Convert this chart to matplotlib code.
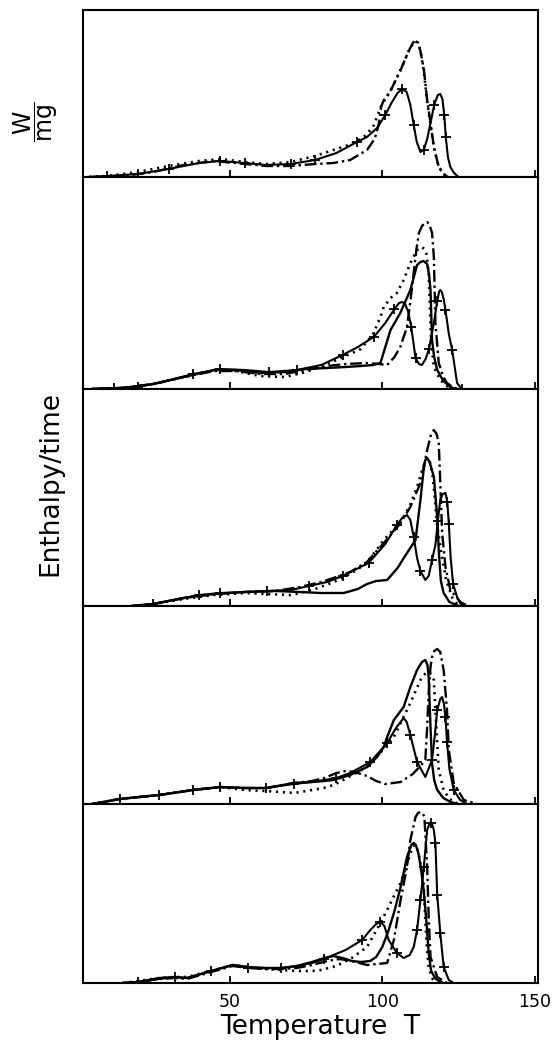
import matplotlib.pyplot as plt

plt.rcParams['font.family'] = ['DejaVu Sans']
plt.rcParams['mathtext.fontset'] = 'dejavusans'

# ── data (T in degrees, h = signal height) ──
# panel 1 (top)
p1_cross_T = [4, 10, 20, 30, 40, 47, 55, 62, 70, 78, 85, 91.7, 95, 98.3, 101, 103, 105, 106.5, 108, 109.2,
              110.3, 111.3, 112.5, 113.6, 114.7, 115.8, 117, 118.2, 119.0, 119.7, 120.3, 120.8, 121.5, 122.3, 123.5, 125]
p1_cross_h = [0, 1, 3, 8, 14, 16, 14, 12, 13, 17, 24, 35, 40, 49, 62, 74, 84, 88, 85, 72,
              52, 35, 25, 27, 38, 54, 72, 82, 83, 78, 62, 40, 20, 10, 4, 0]
p1_dash_T = [4, 15, 25, 35, 45, 55, 62, 70, 78, 84, 89.5, 95, 97.5, 98.8, 99.6, 100.5, 101.5, 103, 106, 108.5,
             110, 110.9, 111.8, 112.5, 113.6, 114.7, 115.8, 116.9, 118.5, 120, 121.5]
p1_dash_h = [0, 1, 5, 12, 16, 13, 11, 11, 13, 14, 17, 27, 38, 52, 70, 77, 80, 88, 107, 125,
             134, 137, 134, 126, 108, 77, 54, 30, 10, 3, 0]
p1_dot_T = [4, 10, 20, 30, 40, 47, 55, 62, 70, 78, 85, 90, 94, 97, 99.5, 101, 103, 106, 108.5, 110,
            110.9, 111.8, 112.5, 113.6, 114.7, 115.8, 117, 118.5, 121]
p1_dot_h = [0, 1, 5, 11, 16, 18, 15, 13, 15, 21, 28, 33, 40, 50, 70, 78, 88, 107, 125, 133,
            136, 133, 126, 106, 76, 52, 28, 10, 0]

# panel 2
p2_cross_T = [5, 12, 20, 28, 38, 47, 55, 63, 72, 80, 87, 92, 97.2, 101, 104, 105.5, 106.5, 107.5, 108.5, 109.5,
              110.9, 112, 113, 114.2, 115.3, 116.9, 118, 118.6, 119.0, 119.5, 120.1, 120.7, 121.8, 122.9, 124.5, 126]
p2_cross_h = [0, 1, 2, 7, 15, 20, 19, 17, 19, 24, 34, 42, 52, 66, 80, 86, 87, 85, 77, 62,
              31, 25, 24, 30, 40, 66, 88, 97, 99, 97, 90, 79, 55, 39, 6, 0]
p2_solid_T = [5, 15, 25, 35, 45, 52, 60, 68, 75, 82, 88, 93, 97, 99.4, 101, 102.7, 105.9, 109.2, 111.4, 112.5,
              113.5, 114.7, 115.3, 115.8, 116.3, 117, 118, 120, 122.3, 124]
p2_solid_h = [0, 1, 5, 12, 19, 19, 16, 17, 20, 21, 22, 23, 24, 26, 42, 59, 76, 99, 124, 127,
              128, 125, 115, 99, 49, 32, 19, 8, 2, 0]
p2_dash_T = [5, 15, 25, 35, 45, 52, 60, 68, 75, 82, 88, 95, 99, 101.6, 104, 105.9, 108.1, 109.3, 110.3, 111.2,
             112, 113, 114, 114.7, 115.5, 116.3, 116.9, 117.4, 118.5, 120, 121.2, 123, 125]
p2_dash_h = [0, 1, 5, 12, 18, 18, 15, 15, 19, 23, 25, 26, 25, 24, 32, 42, 62, 90, 116, 140,
             156, 163, 166, 167, 164, 156, 132, 66, 26, 12, 6, 2, 0]
p2_dot_T = [5, 15, 25, 35, 45, 52, 60, 68, 75, 82, 88, 93, 97, 99.4, 100.5, 102.7, 104.8, 107, 109.2, 111.4,
            112.3, 113, 113.8, 114.4, 115.2, 115.6, 116, 116.9, 119, 122.3]
p2_dot_h = [0, 1, 5, 12, 19, 18, 13, 12, 17, 25, 33, 40, 55, 72, 82, 91, 96, 109, 126, 139,
            141, 142, 140, 136, 116, 82, 49, 22, 9, 0]

# panel 3
p3_dash_T = [18, 25, 35, 45, 55, 65, 73, 80, 84, 89.5, 95, 100.5, 106, 109.2, 112.5, 114.7, 116, 116.9, 117.8, 118.5,
             119, 119.6, 120.7, 122.3, 125.6, 128]
p3_dash_h = [0, 2, 8, 12, 14, 15, 19, 24, 28, 34, 44, 63, 83, 99, 123, 156, 172, 176, 172, 163,
             123, 73, 39, 16, 4, 0]
p3_cross_T = [18, 25, 31.6, 40, 47, 55, 62.2, 70, 76, 81.9, 87, 95.5, 101, 104.8, 106.5, 108.1, 109.2, 110.3, 111.4, 112.5,
              114.1, 115.2, 116.3, 117.4, 118.2, 119, 119.8, 120.7, 121.3, 121.8, 122.4, 123.2, 124.5, 126]
p3_cross_h = [0, 2, 6, 11, 13, 14, 15, 16, 20, 24, 30, 43, 62, 81, 88, 91, 86, 69, 48, 35,
              26, 30, 46, 61, 85, 106, 112, 113, 104, 82, 48, 22, 9, 0]
p3_solid_T = [18, 25, 35, 45, 55, 65, 73.2, 80, 87.4, 92, 95, 98, 101.6, 105, 108.1, 110.9, 112.5, 113.5, 114.1, 114.7,
              115.5, 116.9, 118, 118.5, 119.2, 120.1, 122, 125]
p3_solid_h = [0, 2, 8, 12, 14, 15, 14, 13, 13, 17, 22, 25, 26, 38, 53, 66, 106, 135, 146, 148,
              144, 129, 89, 55, 25, 13, 4, 0]
p3_dot_T = [18, 25, 35, 45, 55, 62, 70, 73.2, 78, 84.1, 90, 95, 100.5, 106, 109, 111.4, 113.5, 114.7, 115.5, 116.5,
            117.3, 118, 119.5, 121, 123, 124.5, 127]
p3_dot_h = [0, 2, 7, 11, 13, 12, 11, 13, 17, 24, 33, 43, 66, 84, 100, 119, 140, 148, 146, 130,
            105, 80, 50, 25, 8, 2, 0]

# panel 4
p4_cross_T = [5, 14, 27, 38, 47, 55, 62, 71, 77, 81, 85, 89.5, 96.1, 101.6, 104.5, 106, 107, 108, 109.2, 111.4,
              114.1, 116.3, 117.2, 118, 119, 119.6, 120.2, 120.7, 121.2, 122, 123.4, 125.5, 127.8]
p4_cross_h = [0, 5, 9, 14, 17, 16, 16, 20, 22, 24, 26, 31, 42, 61, 76, 82, 86, 82, 69, 42,
              27, 44, 68, 94, 105, 107, 100, 87, 62, 35, 14, 4, 0]
p4_solid_T = [5, 14, 27, 38, 47, 55, 62, 71, 77, 81, 84, 89.5, 95, 98.3, 100.5, 101.6, 103.8, 107, 109.2, 111.4,
              113, 114.1, 114.8, 115.2, 115.8, 116.3, 117, 118, 120, 122.3, 125]
p4_solid_h = [0, 5, 9, 14, 17, 16, 16, 21, 22, 23, 24, 29, 37, 47, 57, 67, 84, 97, 117, 134,
              142, 144, 139, 127, 77, 41, 24, 14, 6, 2, 0]
p4_dash_T = [5, 14, 27, 38, 47, 55, 62, 71, 77, 81, 85, 88, 91, 95, 98, 101, 106, 110, 112.5, 114.1,
             114.7, 115.2, 115.8, 116.3, 117, 118, 119, 120.1, 121.2, 121.8, 123.4, 126.7, 131]
p4_dash_h = [0, 5, 9, 14, 17, 16, 16, 21, 23, 26, 31, 33, 32, 28, 23, 20, 22, 30, 38, 44,
             77, 111, 137, 147, 153, 155, 152, 134, 94, 54, 21, 4, 0]
p4_dot_T = [5, 14, 27, 38, 47, 55, 62, 71, 73.2, 80.8, 84.1, 89, 95, 99, 103.8, 106.5, 109.2, 112.5, 114, 115.2,
            116.2, 116.9, 117.4, 118, 118.5, 120.1, 122, 124.5]
p4_dot_h = [0, 5, 9, 14, 17, 14, 13, 11, 12, 16, 19, 27, 37, 50, 67, 84, 101, 124, 130, 132,
            129, 124, 94, 61, 34, 14, 5, 1]

# panel 5 (bottom)
p5_cross_T = [15, 20, 27, 32, 36, 44, 51, 56, 62, 67, 72, 77, 81, 84, 88, 93.4, 96.1, 98, 99.4, 100.7,
              102.1, 104.8, 107, 109, 110.3, 111.4, 112.5, 113.6, 114.7, 115.3, 115.8, 116.4, 116.9, 117.4, 118, 119,
              120.1, 121.8, 123.4]
p5_cross_h = [0, 1, 4, 6, 5, 12, 18, 15, 15, 15, 17, 20, 24, 28, 33, 43, 53, 59, 61, 57,
              43, 30, 25, 28, 36, 53, 83, 116, 153, 158, 160, 158, 153, 140, 88, 50,
              16, 3, 0]
p5_dash_T = [15, 20, 27, 32, 36, 44, 51, 56, 62, 67, 72, 77, 82, 86, 90, 95, 101.6, 103.8, 106, 108.1,
             109.2, 110.9, 111.7, 112.5, 113.2, 113.8, 114.7, 115.2, 115.8, 118, 121.2]
p5_dash_h = [0, 1, 4, 5, 4, 11, 17, 15, 14, 14, 15, 18, 22, 24, 22, 18, 20, 43, 83, 116,
             143, 166, 170, 171, 170, 166, 116, 66, 26, 6, 0]
p5_solid_T = [15, 20, 27, 32, 36, 44, 51, 56, 62, 67, 72, 77, 81, 84, 87, 90, 93, 96, 98, 100,
              102, 104, 106, 108.1, 109.5, 110.3, 111, 111.8, 112.5, 113.6, 114.5, 115.2, 116, 117.5, 120]
p5_solid_h = [0, 1, 5, 6, 5, 12, 18, 16, 15, 15, 17, 21, 25, 27, 25, 22, 21, 22, 26, 36,
              52, 72, 96, 126, 138, 140, 138, 130, 118, 92, 60, 30, 12, 4, 0]
p5_dot_T = [15, 20, 27, 32, 36, 44, 51, 56, 62, 67, 72, 77, 80, 85, 90, 95, 98.5, 101.6, 104, 106,
            108, 109.5, 110.5, 111.3, 112, 113.5, 114, 114.5, 115.2, 116.5, 119]
p5_dot_h = [0, 2, 5, 6, 6, 12, 18, 16, 14, 13, 12, 12, 13, 17, 25, 36, 55, 73, 88, 100,
            118, 132, 138, 136, 128, 100, 70, 40, 15, 4, 0]

x_ticks = [50, 100, 150]
x_range = (2, 151)

panels = [
    [('dot', p1_dot_T, p1_dot_h), ('dash', p1_dash_T, p1_dash_h), ('cross', p1_cross_T, p1_cross_h)],
    [('dot', p2_dot_T, p2_dot_h), ('dash', p2_dash_T, p2_dash_h), ('solid', p2_solid_T, p2_solid_h),
     ('cross', p2_cross_T, p2_cross_h)],
    [('dot', p3_dot_T, p3_dot_h), ('dash', p3_dash_T, p3_dash_h), ('solid', p3_solid_T, p3_solid_h),
     ('cross', p3_cross_T, p3_cross_h)],
    [('dot', p4_dot_T, p4_dot_h), ('dash', p4_dash_T, p4_dash_h), ('solid', p4_solid_T, p4_solid_h),
     ('cross', p4_cross_T, p4_cross_h)],
    [('dot', p5_dot_T, p5_dot_h), ('dash', p5_dash_T, p5_dash_h), ('solid', p5_solid_T, p5_solid_h),
     ('cross', p5_cross_T, p5_cross_h)],
]

styles = {
    'solid': dict(ls='-', lw=1.7),
    'dash': dict(ls=(0, (5, 1.6, 1, 1.6)), lw=1.7),
    'dot': dict(ls=(0, (0.8, 1.8)), lw=1.9),
    # '+' marks along the line, first one a bit away from the start
    'cross': dict(ls='-', lw=1.5, marker='+', ms=7, mew=1.3, markevery=(0.04, 0.075)),
}

# panel borders in pixels (top of figure = 0)
W, H = 555, 1050
left_px, right_px = 83, 538
edges_px = [10, 177, 389, 606, 804, 983]

fig = plt.figure(figsize=(W / 100, H / 100), dpi=100)

for i, curves in enumerate(panels):
    top, bot = edges_px[i], edges_px[i + 1]
    ax = fig.add_axes([left_px / W, 1 - bot / H, (right_px - left_px) / W, (bot - top) / H])
    for kind, T, h in curves:
        ax.plot(T, h, color='black', solid_capstyle='round', **styles[kind])
    ax.set_xlim(*x_range)
    ax.set_ylim(0, bot - top)
    ax.set_yticks([])
    ax.set_xticks(x_ticks)
    ax.tick_params(axis='x', direction='in', length=5, width=1.3, pad=7,
                   labelsize=12.5, labelbottom=(i == len(panels) - 1))
    for s in ax.spines.values():
        s.set_linewidth(1.5)

fig.text(320 / W, 1 - 1027 / H, 'Temperature  T', ha='center', va='center', fontsize=19)
fig.text(50 / W, 1 - 483 / H, 'Enthalpy/time', ha='center', va='center', rotation=90, fontsize=19)
fig.text(36 / W, 1 - 122 / H, r'$\dfrac{\mathrm{W}}{\mathrm{mg}}$', ha='center', va='center',
         rotation=90, fontsize=17)

fig.savefig('out.png', dpi=100)
